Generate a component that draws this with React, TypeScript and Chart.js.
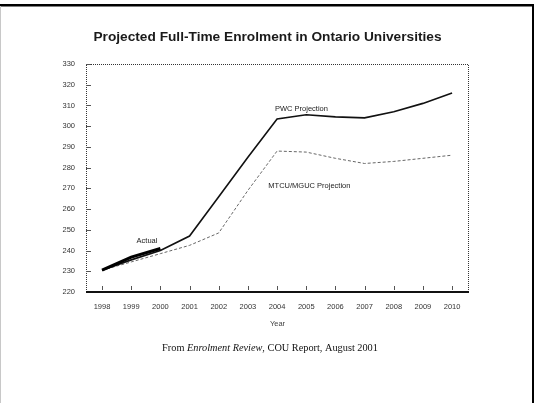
import React, { useEffect, useRef } from "react";
import { Chart, registerables } from "chart.js";

Chart.register(...registerables);

const years = [1998, 1999, 2000, 2001, 2002, 2003, 2004, 2005, 2006, 2007, 2008, 2009, 2010];
const pwcValues = [230.5, 235.5, 240, 247, 266, 285, 303.5, 305.5, 304.5, 304, 307, 311, 316];
const mtcuValues = [230.5, 234.5, 238.5, 242.5, 248.5, 269, 288, 287.5, 284.5, 282, 283, 284.5, 286];
const actualYears = [1998, 1999, 2000];
const actualValues = [230.6, 236.8, 241];
const yTicks = [220, 230, 240, 250, 260, 270, 280, 290, 300, 310, 320, 330];

const titleText = "Projected Full-Time Enrolment in Ontario Universities";
const xAxisTitle = "Year";
const captionParts = [
  { text: "From ", italic: false },
  { text: "Enrolment Review", italic: true },
  { text: ", COU Report, August 2001", italic: false },
];
const seriesLabels = [
  { text: "Actual", x: 1999.54, y: 244.5, align: "center" },
  { text: "PWC Projection", x: 2003.93, y: 308.5, align: "left" },
  { text: "MTCU/MGUC Projection", x: 2003.7, y: 271, align: "left" },
];

const SANS = '"Liberation Sans", Arial, sans-serif';
const SERIF = '"Liberation Serif", "Times New Roman", serif';

const decorPlugin = {
  id: "decor",
  beforeDatasetsDraw(chart: any) {
    const { ctx, chartArea } = chart;
    const { left, right, top, bottom } = chartArea;
    const xs = chart.scales.x;
    const ys = chart.scales.y;
    ctx.save();
    ctx.strokeStyle = "#333";
    ctx.lineWidth = 1;
    ctx.setLineDash([1, 1]);
    ctx.beginPath();
    ctx.moveTo(left + 0.5, bottom);
    ctx.lineTo(left + 0.5, top + 0.5);
    ctx.lineTo(right - 0.5, top + 0.5);
    ctx.lineTo(right - 0.5, bottom);
    ctx.stroke();
    ctx.setLineDash([]);
    ctx.strokeStyle = "#555";
    ys.ticks.forEach((t: any) => {
      const py = Math.round(ys.getPixelForValue(t.value)) + 0.5;
      ctx.beginPath();
      ctx.moveTo(left, py);
      ctx.lineTo(left + 5, py);
      ctx.stroke();
    });
    xs.ticks.forEach((t: any) => {
      const px = Math.round(xs.getPixelForValue(t.value)) + 0.5;
      ctx.beginPath();
      ctx.moveTo(px, bottom - 6);
      ctx.lineTo(px, bottom - 2);
      ctx.stroke();
    });
    ctx.strokeStyle = "#111";
    ctx.lineWidth = 2;
    ctx.beginPath();
    ctx.moveTo(left, bottom);
    ctx.lineTo(right, bottom);
    ctx.stroke();
    ctx.restore();
  },
  afterDraw(chart: any) {
    const { ctx, width, height } = chart;
    const xs = chart.scales.x;
    const ys = chart.scales.y;
    ctx.save();
    ctx.fillStyle = "#000";
    ctx.fillRect(0, 4, width, 2.5);
    ctx.fillRect(width - 2, 4, 2, height - 4);
    ctx.fillStyle = "#c8c8c8";
    ctx.fillRect(0, 6, 1, height - 6);
    ctx.fillStyle = "#1a1a1a";
    ctx.font = "bold 13.7px " + SANS;
    ctx.textAlign = "center";
    ctx.textBaseline = "alphabetic";
    ctx.fillText(titleText, 267.5, 41);
    ctx.font = "7.5px " + SANS;
    ctx.fillStyle = "#222";
    ctx.textBaseline = "middle";
    seriesLabels.forEach((l) => {
      ctx.textAlign = l.align as CanvasTextAlign;
      ctx.fillText(l.text, xs.getPixelForValue(l.x), ys.getPixelForValue(l.y));
    });
    ctx.textBaseline = "alphabetic";
    ctx.textAlign = "left";
    ctx.fillStyle = "#111";
    const fonts = captionParts.map((p) => (p.italic ? "italic " : "") + "10.3px " + SERIF);
    let total = 0;
    const widths = captionParts.map((p, i) => {
      ctx.font = fonts[i];
      const w = ctx.measureText(p.text).width;
      total += w;
      return w;
    });
    let cx = 270 - total / 2;
    captionParts.forEach((p, i) => {
      ctx.font = fonts[i];
      ctx.fillText(p.text, cx, 351);
      cx += widths[i];
    });
    ctx.restore();
  },
};

export default function App() {
  const canvasRef = useRef<HTMLCanvasElement | null>(null);

  useEffect(() => {
    if (!canvasRef.current) return;
    const chart = new Chart(canvasRef.current, {
      type: "line",
      data: {
        datasets: [
          {
            label: "Actual",
            data: actualYears.map((x, i) => ({ x, y: actualValues[i] })),
            borderColor: "#000",
            borderWidth: 3,
            pointRadius: 0,
            tension: 0,
          },
          {
            label: "PWC Projection",
            data: years.map((x, i) => ({ x, y: pwcValues[i] })),
            borderColor: "#111",
            borderWidth: 1.6,
            pointRadius: 0,
            tension: 0,
          },
          {
            label: "MTCU/MGUC Projection",
            data: years.map((x, i) => ({ x, y: mtcuValues[i] })),
            borderColor: "#666",
            borderWidth: 1,
            borderDash: [3, 2],
            pointRadius: 0,
            tension: 0,
          },
        ],
      },
      options: {
        animation: false,
        responsive: false,
        devicePixelRatio: 1,
        layout: { padding: { left: 0, right: 65, top: 64, bottom: 0 } },
        plugins: {
          legend: { display: false },
          tooltip: { enabled: false },
          title: { display: false },
        },
        scales: {
          x: {
            type: "linear",
            min: 1997.45,
            max: 2010.58,
            grid: { display: false, drawTicks: false },
            border: { display: false },
            afterBuildTicks: (scale: any) => {
              scale.ticks = years.map((v) => ({ value: v }));
            },
            afterFit: (scale: any) => {
              scale.height = 111;
            },
            ticks: {
              padding: 10,
              maxRotation: 0,
              autoSkip: false,
              color: "#333",
              font: { family: SANS, size: 7.5 },
              callback: (v: any) => String(v),
            },
            title: {
              display: true,
              text: xAxisTitle,
              color: "#444",
              font: { family: SANS, size: 7.5 },
              padding: { top: 4, bottom: 75 },
            },
          },
          y: {
            type: "linear",
            min: 220,
            max: 330,
            grid: { display: false, drawTicks: false },
            border: { display: false },
            afterBuildTicks: (scale: any) => {
              scale.ticks = yTicks.map((v) => ({ value: v }));
            },
            afterFit: (scale: any) => {
              scale.width = 86;
            },
            ticks: {
              padding: 11,
              color: "#333",
              font: { family: SANS, size: 7.5 },
              callback: (v: any) => String(v),
            },
          },
        },
      },
      plugins: [decorPlugin],
    } as any);
    return () => chart.destroy();
  }, []);

  return (
    <div style={{ position: "fixed", left: 0, top: 0, width: 534, height: 403, background: "#fff" }}>
      <canvas ref={canvasRef} width={534} height={403} style={{ display: "block" }} />
    </div>
  );
}
